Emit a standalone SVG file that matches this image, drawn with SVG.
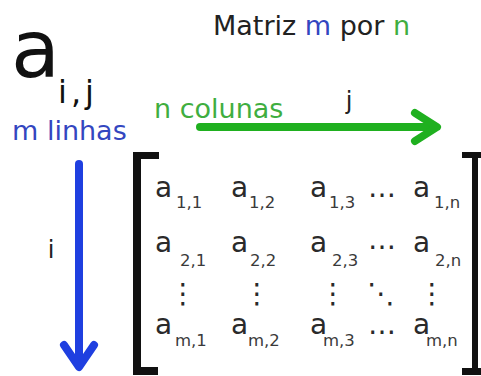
<svg xmlns="http://www.w3.org/2000/svg" width="481" height="376" viewBox="0 0 481 376">
<style>
text{font-family:"DejaVu Sans","Liberation Sans",sans-serif}
.t{font-size:27px;fill:#222}
.blue{fill:#3346c0}
.green{fill:#3fae3f}
.e{font-size:28px;fill:#2a2a2a}
.s{font-size:16.5px;fill:#3a3a3a}
.d{font-size:28px;fill:#2a2a2a}
.br{fill:#111}
</style>
<defs>
<marker id="hg" viewBox="-30 -22 36 44" refX="0" refY="0" markerWidth="36" markerHeight="44" markerUnits="userSpaceOnUse" orient="auto" overflow="visible">
<path d="M-18,-14 L4,0 L-18,14" fill="none" stroke="#1fb01f" stroke-width="8" stroke-linecap="round" stroke-linejoin="round"/>
</marker>
<marker id="hb" viewBox="-30 -22 36 44" refX="0" refY="0" markerWidth="36" markerHeight="44" markerUnits="userSpaceOnUse" orient="auto" overflow="visible">
<path d="M-18,-15 L4,0 L-18,15" fill="none" stroke="#1f3fe0" stroke-width="8" stroke-linecap="round" stroke-linejoin="round"/>
</marker>
</defs>
<rect width="481" height="376" fill="#fff"/>
<g id="title">
<text class="t" x="213" y="35">Matriz <tspan class="blue">m</tspan> por <tspan class="green">n</tspan></text>
</g>
<g id="aij">
<text x="11" y="77" font-size="80" fill="#111">a</text>
<text x="58" y="103" font-size="32" fill="#111" letter-spacing="4">i,j</text>
</g>
<g id="m-linhas">
<text class="blue" x="12" y="140" font-size="27">m linhas</text>
</g>
<g id="n-colunas">
<text class="green" x="154" y="118" font-size="27">n colunas</text>
</g>
<g id="label-j">
<text x="349" y="109" font-size="24" fill="#222" text-anchor="middle">j</text>
</g>
<g id="label-i">
<text x="51" y="258" font-size="24" fill="#222" text-anchor="middle">i</text>
</g>
<g id="connectors">
<path d="M200,127 H433" stroke="#1fb01f" stroke-width="8" stroke-linecap="round" fill="none" marker-end="url(#hg)"/>
<path d="M79,164 V363" stroke="#1f3fe0" stroke-width="8" stroke-linecap="round" fill="none" marker-end="url(#hb)"/>
</g>
<g id="matrix">
<path class="br" d="M133,152 H159 V159 H141 V367 H158 V375 H133 Z"/>
<path class="br" d="M462,152 H481 V158 H478 V368 H481 V375 H462 V368 H472 V158 H462 Z"/>
<text class="e" x="155" y="197">a</text><text class="s" x="176" y="208">1,1</text>
<text class="e" x="231" y="197">a</text><text class="s" x="249" y="208">1,2</text>
<text class="e" x="310" y="197">a</text><text class="s" x="329" y="208">1,3</text>
<text class="d" x="368" y="197">…</text>
<text class="e" x="413" y="197">a</text><text class="s" x="434" y="208">1,n</text>

<text class="e" x="155" y="252">a</text><text class="s" x="180" y="266">2,1</text>
<text class="e" x="231" y="252">a</text><text class="s" x="250" y="266">2,2</text>
<text class="e" x="310" y="252">a</text><text class="s" x="332" y="266">2,3</text>
<text class="d" x="368" y="249">…</text>
<text class="e" x="413" y="252">a</text><text class="s" x="435" y="266">2,n</text>

<text class="d" x="183" y="303" text-anchor="middle">⋮</text>
<text class="d" x="257" y="303" text-anchor="middle">⋮</text>
<text class="d" x="333" y="303" text-anchor="middle">⋮</text>
<text class="d" x="381" y="303" text-anchor="middle">⋱</text>
<text class="d" x="432" y="303" text-anchor="middle">⋮</text>

<text class="e" x="155" y="334">a</text><text class="s" x="175" y="346">m,1</text>
<text class="e" x="231" y="334">a</text><text class="s" x="248" y="346">m,2</text>
<text class="e" x="310" y="334">a</text><text class="s" x="323" y="346">m,3</text>
<text class="d" x="368" y="334">…</text>
<text class="e" x="413" y="334">a</text><text class="s" x="426" y="346">m,n</text>
</g>
</svg>
